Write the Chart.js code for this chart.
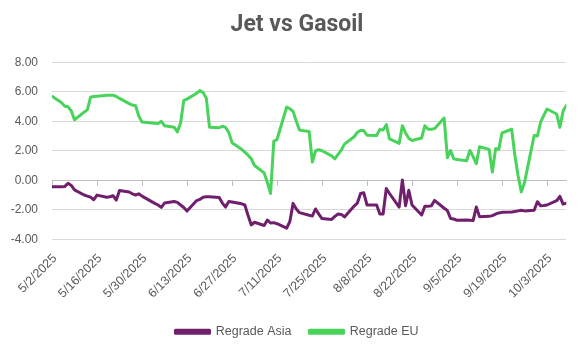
<!DOCTYPE html>
<html><head><meta charset="utf-8">
<script src="https://cdn.jsdelivr.net/npm/chart.js@4.4.1/dist/chart.umd.min.js"></script>
<style>html,body{margin:0;padding:0;background:#fff}#wrap{width:586px;height:352px}</style>
</head><body><div id="wrap"><canvas id="c" width="586" height="352"></canvas></div>
<script>
const year = 2025;
const chartTitle = 'Jet vs Gasoil';
const seriesNames = ['Regrade Asia', 'Regrade EU'];
const dates = [
'5/2',
'5/5','5/6','5/7','5/8','5/9',
'5/12','5/13','5/14','5/15','5/16',
'5/19','5/20','5/21','5/22','5/23',
'5/26','5/27','5/28','5/29','5/30',
'6/2','6/3','6/4','6/5','6/6',
'6/9','6/10','6/11','6/12','6/13',
'6/16','6/17','6/18','6/19','6/20',
'6/23','6/24','6/25','6/26','6/27',
'6/30','7/1','7/2','7/3','7/4',
'7/7','7/8','7/9','7/10','7/11',
'7/14','7/15','7/16','7/17','7/18',
'7/21','7/22','7/23','7/24','7/25',
'7/28','7/29','7/30','7/31','8/1',
'8/4','8/5','8/6','8/7','8/8',
'8/11','8/12','8/13','8/14','8/15',
'8/18','8/19','8/20','8/21','8/22',
'8/25','8/26','8/27','8/28','8/29',
'9/1','9/2','9/3','9/4','9/5',
'9/8','9/9','9/10','9/11','9/12',
'9/15','9/16','9/17','9/18','9/19',
'9/22','9/23','9/24','9/25','9/26',
'9/29','9/30','10/1','10/2','10/3',
'10/6','10/7','10/8','10/9'
];
const regradeAsia = [
-0.45,
-0.45, -0.42, -0.20, -0.35, -0.65,
-1.00, -1.08, -1.15, -1.32, -1.01,
-1.15, -1.12, -1.05, -1.35, -0.70,
-0.80, -0.92, -1.00, -0.92, -1.08,
-1.45, -1.57, -1.68, -1.84, -1.55,
-1.44, -1.50, -1.68, -1.85, -2.09,
-1.38, -1.30, -1.15, -1.12, -1.12,
-1.17, -1.55, -1.82, -1.45, -1.48,
-1.60, -1.68, -2.40, -3.03, -2.85,
-3.07, -2.70, -2.90, -2.88, -2.95,
-3.25, -2.80, -1.57, -1.95, -2.20,
-2.38, -2.42, -1.95, -2.30, -2.60,
-2.66, -2.45, -2.29, -2.32, -2.49,
-1.75, -1.55, -0.90, -0.85, -1.68,
-1.68, -2.29, -2.29, -0.56, -0.90,
-1.82, 0.02, -1.73, -0.68, -1.68,
-2.36, -1.77, -1.77, -1.74, -1.37,
-1.90, -2.05, -2.60, -2.63, -2.72,
-2.70, -2.72, -2.74, -1.82, -2.47,
-2.45, -2.40, -2.30, -2.22, -2.18,
-2.15, -2.12, -2.08, -2.04, -2.08,
-2.04, -1.46, -1.73, -1.71, -1.68,
-1.39, -1.10, -1.62, -1.55
];
const regradeEU = [
5.70,
5.25, 5.02, 4.98, 4.70, 4.10,
4.62, 4.78, 5.63, 5.68, 5.70,
5.77, 5.77, 5.77, 5.68, 5.55,
5.20, 5.10, 5.05, 4.35, 3.95,
3.88, 3.86, 3.84, 4.00, 3.70,
3.60, 3.28, 3.88, 5.41, 5.50,
5.90, 6.08, 5.95, 5.57, 3.60,
3.56, 3.66, 3.58, 3.25, 2.55,
2.10, 1.90, 1.70, 1.45, 1.00,
0.50, -0.16, -0.90, 2.65, 2.76,
4.96, 4.85, 4.67, 4.00, 3.40,
3.30, 1.23, 2.00, 2.08, 2.00,
1.65, 1.45, 1.75, 2.05, 2.45,
2.95, 3.25, 3.37, 3.37, 3.05,
3.03, 3.45, 3.40, 3.77, 2.80,
2.50, 3.70, 3.21, 2.85, 2.70,
2.87, 3.70, 3.46, 3.46, 3.50,
4.22, 1.53, 2.02, 1.45, 1.40,
1.32, 2.02, 1.60, 1.12, 2.27,
2.09, 0.56, 2.13, 2.10, 3.21,
3.46, 1.70, 0.30, -0.79, -0.16,
3.03, 3.00, 3.93, 4.40, 4.83,
4.49, 3.59, 4.69, 5.07
];
const xTickLabels = ['5/2/2025','5/16/2025','5/30/2025','6/13/2025','6/27/2025','7/11/2025','7/25/2025','8/8/2025','8/22/2025','9/5/2025','9/19/2025','10/3/2025'];
const yMin = -4, yMax = 8, yStep = 2;

const DAY = 864e5;
const t0 = Date.UTC(year, 4, 2);
function dayOf(md) {
  const p = md.split('/').map(Number);
  return Math.round((Date.UTC(year, p[0] - 1, p[1]) - t0) / DAY);
}
const xs = dates.map(dayOf);
const xMax = xs[xs.length - 1];
const labelDays = xTickLabels.map(s => { const p = s.split('/').map(Number); return Math.round((Date.UTC(p[2], p[0]-1, p[1]) - t0) / DAY); });
const tickStep = labelDays[1] - labelDays[0];

const grey = '#595959';
const tickFont = { family: 'Liberation Sans', size: 12 };
const purple = '#701F6C';
const green = '#48D35A';
const padLeft = 8;

new Chart(document.getElementById('c'), {
  type: 'line',
  data: {
    datasets: [
      { label: seriesNames[0], data: xs.map((x, i) => ({ x, y: regradeAsia[i] })), borderColor: purple, backgroundColor: purple,
        borderWidth: 3, pointRadius: 0, tension: 0, borderJoinStyle: 'round', borderCapStyle: 'round' },
      { label: seriesNames[1], data: xs.map((x, i) => ({ x, y: regradeEU[i] })), borderColor: green, backgroundColor: green,
        borderWidth: 3, pointRadius: 0, tension: 0, borderJoinStyle: 'round', borderCapStyle: 'round' }
    ]
  },
  options: {
    responsive: false,
    animation: false,
    events: [],
    layout: { padding: { left: padLeft, right: 0, top: 11, bottom: 4 } },
    plugins: {
      title: { display: true, text: chartTitle, color: grey, font: { family: 'Roboto', size: 23, weight: 'bold' }, padding: { top: 0, bottom: 23.7 } },
      legend: { position: 'bottom', labels: { boxWidth: 34, boxHeight: 3, color: grey, font: { family: 'Liberation Sans', size: 12.5 }, padding: 18 } },
      tooltip: { enabled: false }
    },
    scales: {
      x: {
        type: 'linear', min: 0, max: xMax, position: 'bottom',
        grid: { display: false, drawTicks: false }, border: { display: false },
        ticks: { stepSize: tickStep, includeBounds: false, autoSkip: false, minRotation: 45, maxRotation: 45, padding: 12, labelOffset: 3, color: grey, font: { family: 'Liberation Sans', size: 12.5 },
          callback: v => { const k = labelDays.indexOf(Math.round(v)); return k >= 0 ? xTickLabels[k] : ''; } },
        afterFit: s => { s.height = 68.3; }
      },
      x0: {
        type: 'linear', min: 0, max: xMax, position: { y: 0 },
        grid: { drawOnChartArea: false, drawTicks: true, tickLength: 5, color: '#bfbfbf' },
        border: { color: '#bfbfbf' },
        ticks: { display: false, stepSize: tickStep, includeBounds: false, autoSkip: false }
      },
      y: {
        min: yMin, max: yMax,
        grid: { color: '#d9d9d9', drawTicks: false }, border: { display: false },
        ticks: { stepSize: yStep, padding: 14, color: grey, font: tickFont, callback: v => v.toFixed(2) },
        afterFit: s => { s.width = 52 - padLeft; }
      },
      yRight: {
        position: 'right', min: yMin, max: yMax,
        grid: { display: false, drawTicks: false }, border: { display: false },
        ticks: { display: false },
        afterFit: s => { s.width = 19.7; }
      }
    }
  }
});
</script>
</body></html>
